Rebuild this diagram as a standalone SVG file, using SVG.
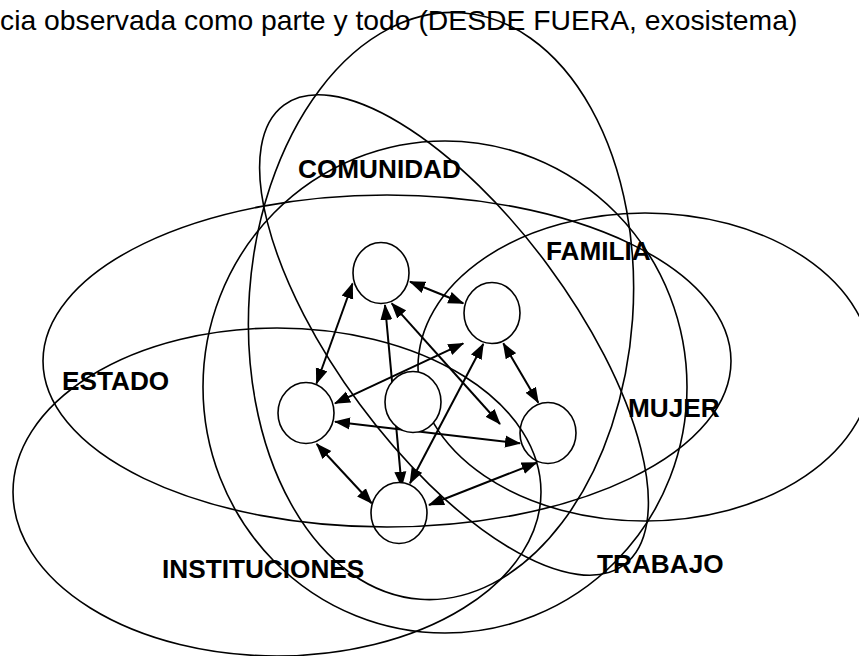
<svg xmlns="http://www.w3.org/2000/svg" width="859" height="656" viewBox="0 0 859 656">
<defs>
<style>
.reg{fill:none;stroke:#000;stroke-width:1.6}
.node{fill:#fff;stroke:#000;stroke-width:1.6}
.con{stroke:#000;stroke-width:2;fill:none;marker-start:url(#ah);marker-end:url(#ah)}
.lbl{font-family:"Liberation Sans",Arial,sans-serif;font-weight:bold;font-size:26.2px;fill:#000}
.title{font-family:"Liberation Sans",Arial,sans-serif;font-size:28.3px;fill:#000}
</style>
<marker id="ah" viewBox="0 0 16 13" markerUnits="userSpaceOnUse" markerWidth="16" markerHeight="13" refX="15" refY="6.5" orient="auto-start-reverse">
<path d="M0,0.5 L16,6.5 L0,12.5 z" fill="#000"/>
</marker>
</defs>
<rect width="859" height="656" fill="#fff"/>
<text class="title" x="0" y="30">cia observada como parte y todo (DESDE FUERA, exosistema)</text>

<g id="trabajo-region"><ellipse class="reg" cx="441" cy="306" rx="192" ry="294" transform="rotate(4 441 306)"/></g>
<g id="comunidad-region"><ellipse class="reg" cx="454" cy="335" rx="286" ry="117" transform="rotate(53.5 454 335)"/></g>
<g id="familia-region"><ellipse class="reg" cx="445" cy="387" rx="242" ry="246"/></g>
<g id="mujer-region"><ellipse class="reg" cx="645" cy="367" rx="227" ry="154"/></g>

<g id="connectors">
<line class="con" x1="352.5" y1="283.5" x2="316.5" y2="383.5"/>
<line class="con" x1="410" y1="281.7" x2="463.3" y2="303.3"/>
<line class="con" x1="385" y1="305" x2="401.7" y2="486.7"/>
<line class="con" x1="391.7" y1="303.3" x2="500" y2="424"/>
<line class="con" x1="463.3" y1="343.3" x2="335" y2="403.3"/>
<line class="con" x1="483.3" y1="344" x2="410" y2="483.3"/>
<line class="con" x1="503.3" y1="343.3" x2="538.3" y2="402.7"/>
<line class="con" x1="335" y1="421.7" x2="520" y2="443.3"/>
<line class="con" x1="316.7" y1="444" x2="371.7" y2="503.3"/>
<line class="con" x1="429" y1="505" x2="536.7" y2="462.7"/>
</g>

<g id="n1"><ellipse class="node" cx="381" cy="273" rx="28" ry="30.5"/></g>
<g id="n2"><ellipse class="node" cx="492" cy="313" rx="28" ry="30.5"/></g>
<g id="n3"><ellipse class="node" cx="306" cy="413" rx="28" ry="30.5"/></g>
<g id="n4"><ellipse class="node" cx="413" cy="402" rx="28" ry="30.5"/></g>
<g id="n5"><ellipse class="node" cx="548" cy="433" rx="28" ry="30.5"/></g>
<g id="n6"><ellipse class="node" cx="399" cy="513" rx="28" ry="30.5"/></g>

<g id="estado-region"><ellipse class="reg" cx="387" cy="361" rx="344" ry="166"/></g>
<g id="instituciones-region"><ellipse class="reg" cx="277" cy="492" rx="264" ry="164"/></g>

<text class="lbl" x="298" y="178">COMUNIDAD</text>
<text class="lbl" x="546" y="260">FAMILIA</text>
<text class="lbl" x="62" y="390">ESTADO</text>
<text class="lbl" x="628" y="417">MUJER</text>
<text class="lbl" x="162" y="578">INSTITUCIONES</text>
<text class="lbl" x="597" y="573">TRABAJO</text>
</svg>
